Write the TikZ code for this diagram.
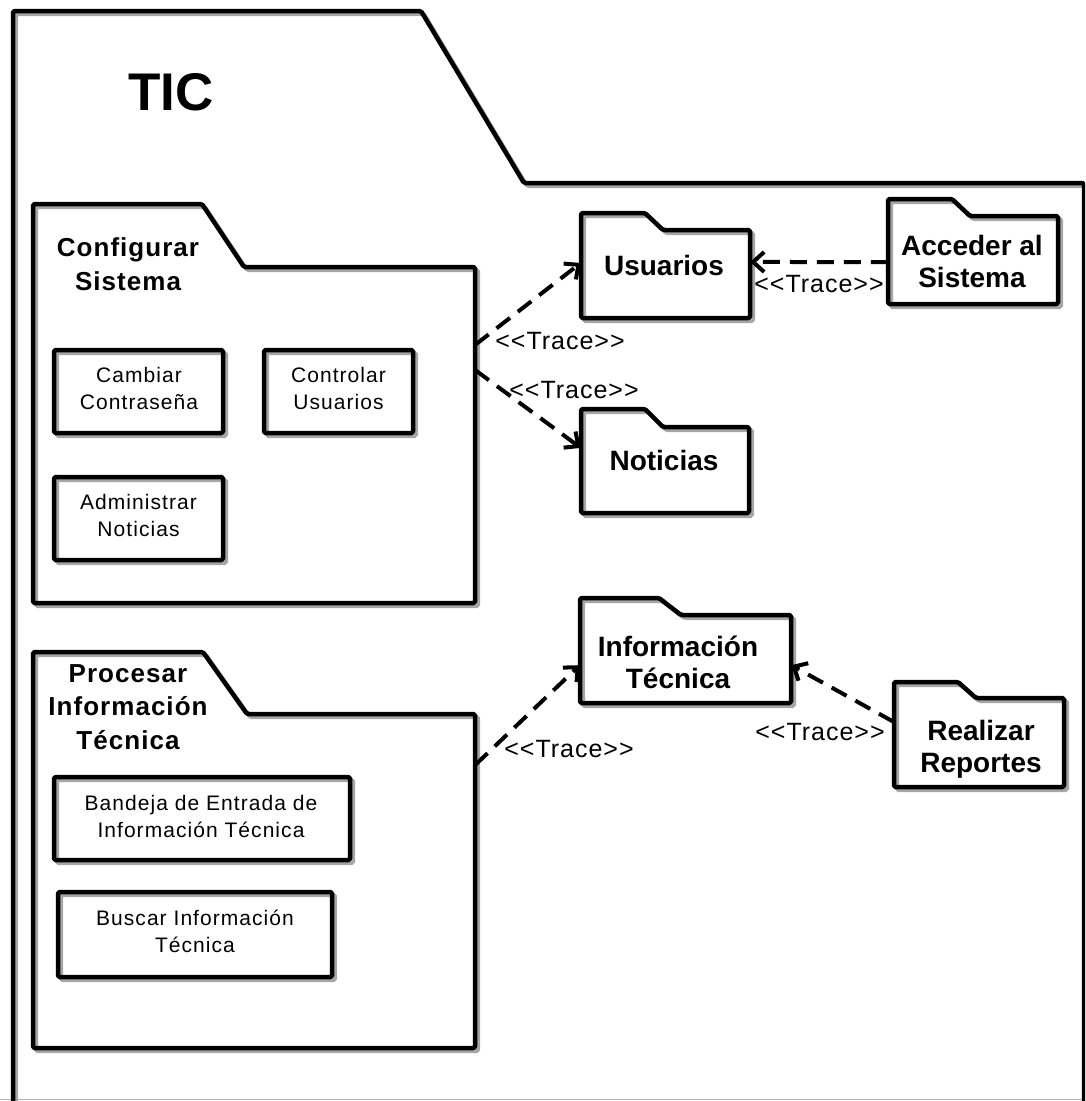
\documentclass[tikz,border=0pt]{standalone}
\usepackage{fontspec}
\setmainfont{Liberation Sans}
\newfontfamily\boxfont{Liberation Sans}[LetterSpace=5]
\newfontfamily\trfont{Liberation Sans}[LetterSpace=4]
\newfontfamily\ttlfont{Liberation Sans}[LetterSpace=4]
\usetikzlibrary{arrows.meta,calc}
\begin{document}
\begin{tikzpicture}[x=1pt,y=-1pt,
  outl/.style={draw=black, line width=4.5pt, line join=round, rounded corners=1.5pt,
    preaction={draw=black!35, line width=4pt, transform canvas={shift={(3,3)}}}},
  hold/.style={inner sep=0pt, draw=none},
  ttl/.style={inner sep=0pt, align=center, font={\ttlfont\bfseries\fontsize{26}{33.5}\selectfont}},
  fold/.style={inner sep=0pt, align=center, font={\bfseries\fontsize{28}{32}\selectfont}},
  boxt/.style={inner sep=0pt, align=center, font={\boxfont\fontsize{21}{27}\selectfont}},
  trc/.style={inner sep=0pt, font={\trfont\fontsize{25}{28}\selectfont}},
  conn/.style={draw=black, line width=4pt, dash pattern=on 17pt off 10pt,
    -{Straight Barb[length=11pt,width=20pt]}}
]
\useasboundingbox (0,0) rectangle (1085,1101);
\clip (0,0) rectangle (1085,1101);
\fill[white] (0,0) rectangle (1085,1101);
\draw[gray!60, line width=1pt] (0,1099.5) -- (1085,1099.5);

% outer TIC package
\draw[outl] (13,1120) -- (13,11) -- (421,11) -- (524,183) -- (1084,183) -- (1084,1120);
\node[inner sep=0pt, font={\bfseries\fontsize{53}{60}\selectfont}] (tic) at (171,92.5) {TIC};

% Configurar Sistema
\draw[outl] (33,204) -- (202,204) -- (244,267) -- (475,267) -- (475,603) -- (33,603) -- cycle;
\node[hold, minimum width=442pt, minimum height=336pt] (cfg) at (254,435) {};
\node[ttl] (cfgt) at (128,264) {Configurar\\Sistema};
\draw[outl] (54,350) rectangle (223,433);
\node[boxt] (cambiar) at (139,388) {Cambiar\\Contraseña};
\draw[outl] (264,350) rectangle (413,433);
\node[boxt] (controlar) at (338.5,388) {Controlar\\Usuarios};
\draw[outl] (54,477) rectangle (223,560);
\node[boxt] (administrar) at (138.5,515) {Administrar\\Noticias};

% Procesar Informacion Tecnica
\draw[outl] (33,652) -- (203,652) -- (247,714) -- (475,714) -- (475,1048) -- (33,1048) -- cycle;
\node[hold, minimum width=442pt, minimum height=334pt] (prc) at (254,881) {};
\node[ttl] (prct) at (128,707) {Procesar\\Información\\Técnica};
\draw[outl] (54,777) rectangle (350,860);
\node[boxt] (bandeja) at (201,816) {Bandeja de Entrada de\\Información Técnica};
\draw[outl] (58,892) rectangle (332,977);
\node[boxt] (buscar) at (195,931) {Buscar Información\\Técnica};

% Usuarios
\draw[outl] (581,213) -- (645,213) -- (663,230) -- (750,230) -- (750,318) -- (581,318) -- cycle;
\node[hold, minimum width=169pt, minimum height=88pt] (usu) at (665.5,274) {};
\node[fold] (usut) at (664,265) {Usuarios};

% Noticias
\draw[outl] (581,409) -- (645,409) -- (663,427) -- (749,427) -- (749,513) -- (581,513) -- cycle;
\node[hold, minimum width=168pt, minimum height=86pt] (not) at (665,470) {};
\node[fold] (nott) at (664,460) {Noticias};

% Acceder al Sistema
\draw[outl] (888,199) -- (952,199) -- (970,216) -- (1058,216) -- (1058,304) -- (888,304) -- cycle;
\node[hold, minimum width=170pt, minimum height=88pt] (acc) at (973,260) {};
\node[fold] (acct) at (972,261) {Acceder al\\Sistema};

% Informacion Tecnica
\draw[outl] (580,598) -- (659,598) -- (681,615) -- (791,615) -- (791,703) -- (580,703) -- cycle;
\node[hold, minimum width=211pt, minimum height=88pt] (inf) at (685.5,659) {};
\node[fold] (inft) at (678,662) {Información\\Técnica};

% Realizar Reportes
\draw[outl] (894,682) -- (958,682) -- (976,698) -- (1064,698) -- (1064,787) -- (894,787) -- cycle;
\node[hold, minimum width=170pt, minimum height=89pt] (rea) at (979,742.5) {};
\node[fold] (reat) at (981,749) {Realizar\\Reportes};

% connectors
\draw[conn] ($(cfg.north east)!0.232!(cfg.south east)$) -- ($(usu.north west)!0.375!(usu.south west)$);
\draw[conn] ($(cfg.north east)!0.307!(cfg.south east)$) -- ($(not.north west)!0.244!(not.south west)$);
\draw[conn] ($(acc.north west)!0.523!(acc.south west)$) -- ($(usu.north east)!0.364!(usu.south east)$);
\draw[conn] ($(prc.north east)!0.153!(prc.south east)$) -- ($(inf.north west)!0.57!(inf.south west)$);
\draw[conn] ($(rea.north west)!0.27!(rea.south west)$) -- ($(inf.north east)!0.57!(inf.south east)$);

% labels
\node[trc] (l1) at (560,341) {<<Trace>>};
\node[trc] (l2) at (574,390) {<<Trace>>};
\node[trc] (l3) at (819,284) {<<Trace>>};
\node[trc] (l4) at (569,749) {<<Trace>>};
\node[trc] (l5) at (820,732.5) {<<Trace>>};
\end{tikzpicture}
\end{document}
